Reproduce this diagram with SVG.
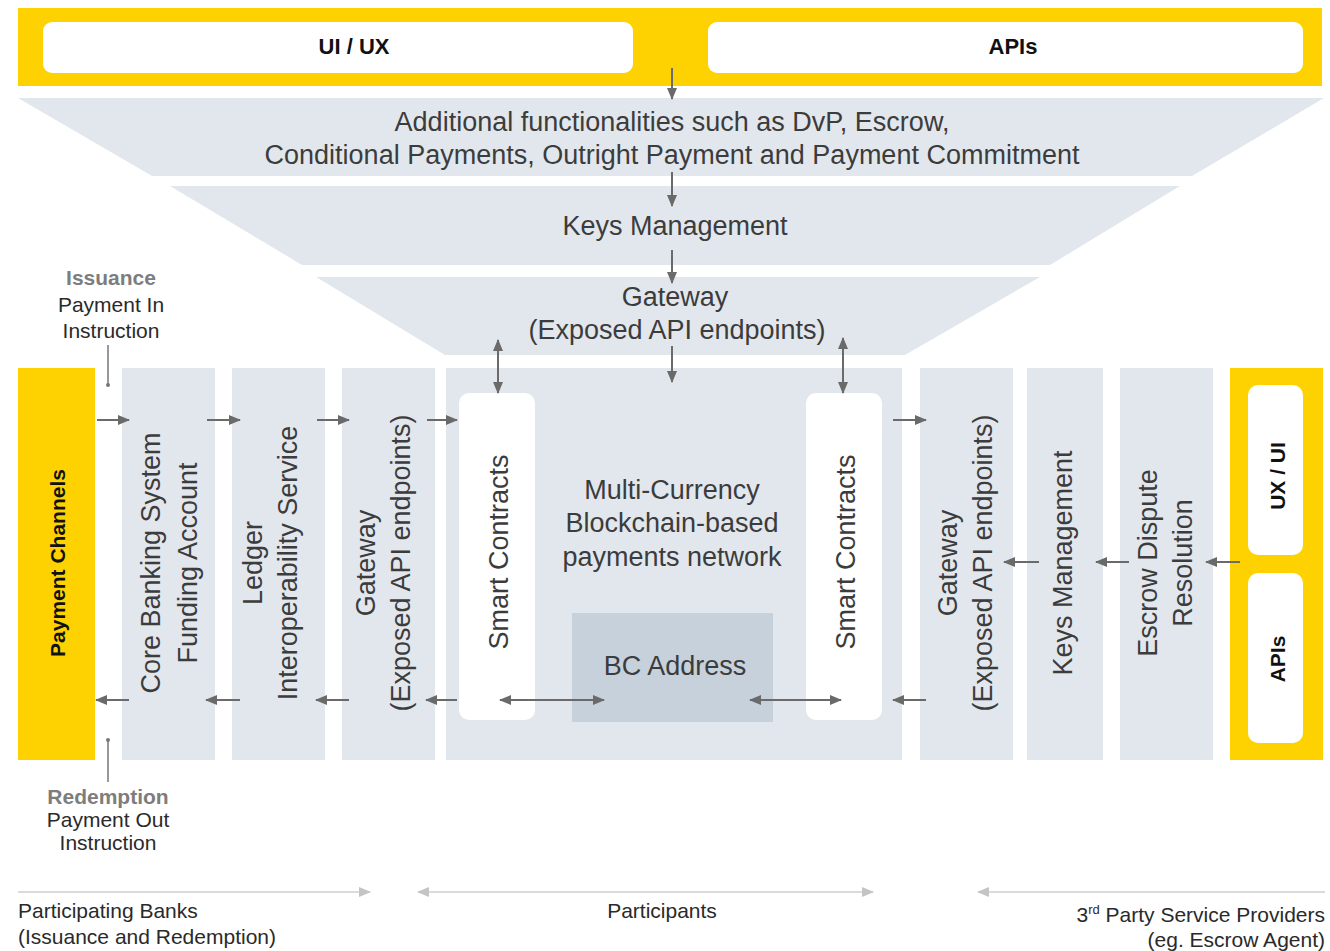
<svg xmlns="http://www.w3.org/2000/svg" width="1330" height="951" viewBox="0 0 1330 951">
<style>
.bg{fill:#ffffff}
.yel{fill:#fdd200}
.wh{fill:#ffffff}
.band{fill:#e2e7ed}
.col{fill:#e2e7ed}
.bc{fill:#c6d1dc}
.t{font-family:"Liberation Sans",Arial,sans-serif;font-size:27px;fill:#3c3c3c;text-anchor:middle}
.tb{font-family:"Liberation Sans",Arial,sans-serif;font-size:22px;font-weight:bold;fill:#111111;text-anchor:middle}
.note{font-family:"Liberation Sans",Arial,sans-serif;font-size:21px;fill:#2a2a2a;text-anchor:middle}
.noteb{font-family:"Liberation Sans",Arial,sans-serif;font-size:21px;font-weight:bold;fill:#7d7d7d;text-anchor:middle}
.foot{font-family:"Liberation Sans",Arial,sans-serif;font-size:21px;fill:#2a2a2a}
.ar{stroke:#6a6a6a;stroke-width:2;fill:none}
.arl{stroke:#cfcfcf;stroke-width:1.6;fill:none}
.thin{stroke:#777777;stroke-width:1.5;fill:none}
</style>
<defs>
<marker id="ah" viewBox="0 0 12 10" refX="11" refY="5" markerWidth="12" markerHeight="10" markerUnits="userSpaceOnUse" orient="auto-start-reverse"><path d="M0,0 L12,5 L0,10 z" fill="#6a6a6a"/></marker>
<marker id="ahl" viewBox="0 0 12 10" refX="11" refY="5" markerWidth="12" markerHeight="10" markerUnits="userSpaceOnUse" orient="auto-start-reverse"><path d="M0,0 L12,5 L0,10 z" fill="#c4c4c4"/></marker>
</defs>
<rect class="bg" x="0" y="0" width="1330" height="951"/>

<g id="top-bar">
<rect class="yel" x="18" y="8" width="1304" height="78"/>
</g>
<g id="ui-ux-top">
<rect class="wh" x="43" y="22" width="590" height="51" rx="9"/>
<text class="tb" x="354" y="54">UI / UX</text>
</g>
<g id="apis-top">
<rect class="wh" x="708" y="22" width="595" height="51" rx="9"/>
<text class="tb" x="1013" y="54">APIs</text>
</g>

<g id="band-additional">
<polygon class="band" points="18,98 1324,98 1192,176 152,176"/>
<text class="t" x="672" y="131">Additional functionalities such as DvP, Escrow,</text>
<text class="t" x="672" y="164">Conditional Payments, Outright Payment and Payment Commitment</text>
</g>
<g id="band-keys">
<polygon class="band" points="170,186 1180,186 1050,265 302,265"/>
<text class="t" x="675" y="235">Keys Management</text>
</g>
<g id="band-gateway">
<polygon class="band" points="316,277 1040,277 905,355 445,355"/>
<text class="t" x="675" y="306">Gateway</text>
<text class="t" x="677" y="339">(Exposed API endpoints)</text>
</g>

<g id="payment-channels">
<rect class="yel" x="18" y="368" width="77" height="392"/>
<text class="tb" style="font-size:21px" transform="translate(65,563) rotate(-90)">Payment Channels</text>
</g>
<g id="core-banking">
<rect class="col" x="122" y="368" width="93" height="392"/>
<text class="t" transform="translate(159.5,563) rotate(-90)">Core Banking System</text>
<text class="t" transform="translate(196.5,563) rotate(-90)">Funding Account</text>
</g>
<g id="ledger">
<rect class="col" x="232" y="368" width="93" height="392"/>
<text class="t" transform="translate(261.5,563) rotate(-90)">Ledger</text>
<text class="t" transform="translate(296.5,563) rotate(-90)">Interoperability Service</text>
</g>
<g id="gateway-left">
<rect class="col" x="342" y="368" width="93" height="392"/>
<text class="t" transform="translate(374.5,563) rotate(-90)">Gateway</text>
<text class="t" transform="translate(409.5,563) rotate(-90)">(Exposed API endpoints)</text>
</g>
<g id="network">
<rect class="col" x="446" y="368" width="456" height="392"/>
<text class="t" x="672" y="499">Multi-Currency</text>
<text class="t" x="672" y="532">Blockchain-based</text>
<text class="t" x="672" y="566">payments network</text>
</g>
<g id="smart-contracts-left">
<rect class="wh" x="459" y="393" width="76" height="327" rx="10"/>
<text class="t" transform="translate(507.5,552) rotate(-90)">Smart Contracts</text>
</g>
<g id="smart-contracts-right">
<rect class="wh" x="806" y="393" width="76" height="327" rx="10"/>
<text class="t" transform="translate(854.5,552) rotate(-90)">Smart Contracts</text>
</g>
<g id="bc-address">
<rect class="bc" x="572" y="613" width="201" height="109"/>
<text class="t" x="675" y="675">BC Address</text>
</g>
<g id="gateway-right">
<rect class="col" x="920" y="368" width="93" height="392"/>
<text class="t" transform="translate(956.5,563) rotate(-90)">Gateway</text>
<text class="t" transform="translate(991.5,563) rotate(-90)">(Exposed API endpoints)</text>
</g>
<g id="keys-right">
<rect class="col" x="1027" y="368" width="76" height="392"/>
<text class="t" transform="translate(1071.5,563) rotate(-90)">Keys Management</text>
</g>
<g id="escrow">
<rect class="col" x="1120" y="368" width="93" height="392"/>
<text class="t" transform="translate(1156.5,563) rotate(-90)">Escrow Dispute</text>
<text class="t" transform="translate(1191.5,563) rotate(-90)">Resolution</text>
</g>
<g id="right-bar">
<rect class="yel" x="1230" y="368" width="93" height="392"/>
</g>
<g id="ux-ui-right">
<rect class="wh" x="1248" y="385" width="55" height="170" rx="10"/>
<text class="tb" style="font-size:21px" transform="translate(1284.5,476) rotate(-90)">UX / UI</text>
</g>
<g id="apis-right">
<rect class="wh" x="1248" y="573" width="55" height="170" rx="10"/>
<text class="tb" style="font-size:21px" transform="translate(1284.5,659) rotate(-90)">APIs</text>
</g>

<g id="issuance-label">
<text class="noteb" x="111" y="285">Issuance</text>
<text class="note" x="111" y="312">Payment In</text>
<text class="note" x="111" y="338">Instruction</text>
</g>
<g id="redemption-label">
<text class="noteb" x="108" y="804">Redemption</text>
<text class="note" x="108" y="827">Payment Out</text>
<text class="note" x="108" y="850">Instruction</text>
</g>

<g id="footer">
<text class="foot" x="18" y="918">Participating Banks</text>
<text class="foot" x="18" y="944">(Issuance and Redemption)</text>
<text class="foot" x="662" y="918" text-anchor="middle">Participants</text>
<text class="foot" x="1325" y="922" text-anchor="end">3<tspan dy="-8" font-size="13">rd</tspan><tspan dy="8"> Party Service Providers</tspan></text>
<text class="foot" x="1325" y="947" text-anchor="end">(eg. Escrow Agent)</text>
</g>

<g id="connectors">
<line class="ar" x1="672" y1="68" x2="672" y2="99" marker-end="url(#ah)"/>
<line class="ar" x1="672" y1="172" x2="672" y2="206" marker-end="url(#ah)"/>
<line class="ar" x1="672" y1="250" x2="672" y2="283" marker-end="url(#ah)"/>
<line class="ar" x1="672" y1="346" x2="672" y2="382" marker-end="url(#ah)"/>
<line class="ar" x1="498" y1="340" x2="498" y2="393" marker-start="url(#ah)" marker-end="url(#ah)"/>
<line class="ar" x1="843" y1="338" x2="843" y2="393" marker-start="url(#ah)" marker-end="url(#ah)"/>

<line class="ar" x1="97" y1="420" x2="129" y2="420" marker-end="url(#ah)"/>
<line class="ar" x1="207" y1="420" x2="240" y2="420" marker-end="url(#ah)"/>
<line class="ar" x1="317" y1="420" x2="349" y2="420" marker-end="url(#ah)"/>
<line class="ar" x1="427" y1="420" x2="457" y2="420" marker-end="url(#ah)"/>
<line class="ar" x1="893" y1="420" x2="926" y2="420" marker-end="url(#ah)"/>

<line class="ar" x1="129" y1="700" x2="96" y2="700" marker-end="url(#ah)"/>
<line class="ar" x1="240" y1="700" x2="206" y2="700" marker-end="url(#ah)"/>
<line class="ar" x1="349" y1="700" x2="316" y2="700" marker-end="url(#ah)"/>
<line class="ar" x1="457" y1="700" x2="426" y2="700" marker-end="url(#ah)"/>
<line class="ar" x1="926" y1="700" x2="893" y2="700" marker-end="url(#ah)"/>
<line class="ar" x1="500" y1="700" x2="604" y2="700" marker-start="url(#ah)" marker-end="url(#ah)"/>
<line class="ar" x1="750" y1="700" x2="841" y2="700" marker-start="url(#ah)" marker-end="url(#ah)"/>

<line class="ar" x1="1240" y1="562" x2="1206" y2="562" marker-end="url(#ah)"/>
<line class="ar" x1="1129" y1="562" x2="1096" y2="562" marker-end="url(#ah)"/>
<line class="ar" x1="1039" y1="562" x2="1004" y2="562" marker-end="url(#ah)"/>

<line class="thin" x1="108" y1="345" x2="108" y2="385"/>
<circle cx="108" cy="385" r="2" fill="#777777"/>
<line class="thin" x1="108" y1="740" x2="108" y2="782"/>
<circle cx="108" cy="740" r="2" fill="#777777"/>

<line class="arl" x1="18" y1="892" x2="370" y2="892" marker-end="url(#ahl)"/>
<line class="arl" x1="418" y1="892" x2="873" y2="892" marker-start="url(#ahl)" marker-end="url(#ahl)"/>
<line class="arl" x1="978" y1="892" x2="1325" y2="892" marker-start="url(#ahl)"/>
</g>
</svg>
